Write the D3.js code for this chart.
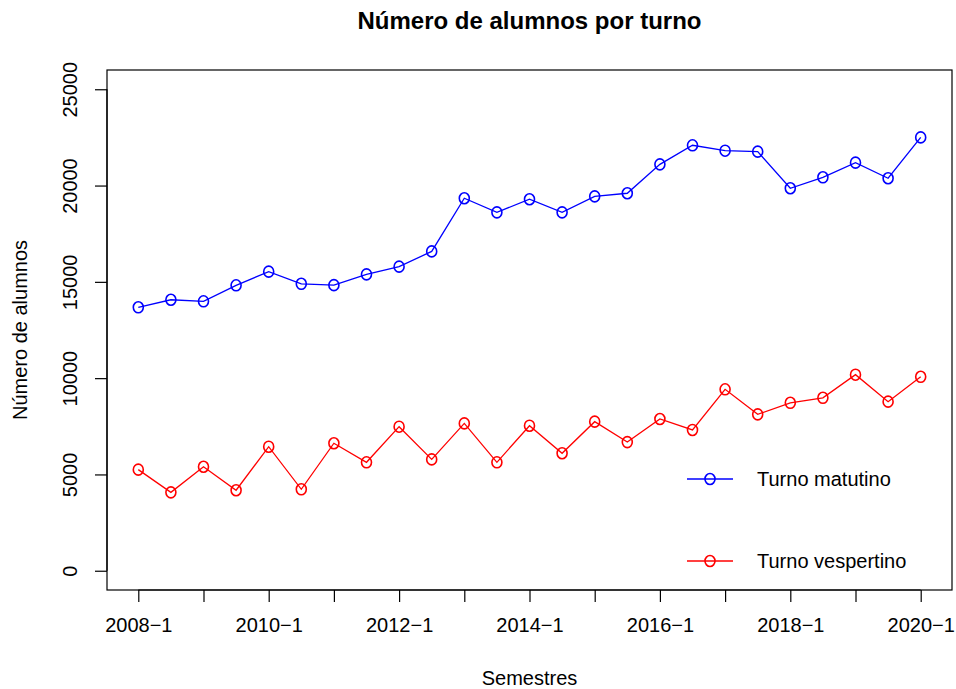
<!DOCTYPE html>
<html>
<head>
<meta charset="utf-8">
<script src="https://cdn.jsdelivr.net/npm/d3@7"></script>
<style>
  body { margin: 0; background: #fff; }
  svg { font-family: "Liberation Sans", Arial, sans-serif; }
</style>
</head>
<body>
<div id="chart"></div>
<script>
var semestres = [];
for (var yr = 2008; yr <= 2020; yr++) {
    semestres.push(yr + '\u22121');
    if (yr < 2020) semestres.push(yr + '\u22122');
}

var matutino = [13680, 14070, 13990, 14820, 15530, 14900, 14830, 15390, 15790, 16580,
    19340, 18610, 19290, 18610, 19440, 19600, 21100, 22090, 21810, 21760,
    19860, 20430, 21190, 20380, 22500];
var vespertino = [5250, 4070, 5400, 4180, 6440, 4230, 6620, 5630, 7480, 5780,
    7650, 5630, 7530, 6100, 7740, 6680, 7880, 7310, 9420, 8120,
    8720, 8980, 10180, 8780, 10070];

var yTicks = [0, 5000, 10000, 15000, 20000, 25000];
var series = [
    { name: 'Turno matutino', values: matutino, color: '#0000ff' },
    { name: 'Turno vespertino', values: vespertino, color: '#ff0000' }
];

var width = 956, height = 689;
var box = { left: 107, right: 952, top: 70, bottom: 590 };

var svg = d3.select('#chart').append('svg')
    .attr('width', width)
    .attr('height', height);

// R style: 4% padding around the data range
var n = semestres.length;
var xPad = (n - 1) * 0.04;
var x = d3.scaleLinear()
    .domain([1 - xPad, n + xPad])
    .range([box.left, box.right]);
var y = d3.scaleLinear()
    .domain([0 - 25000 * 0.04, 25000 * 1.04])
    .range([box.bottom, box.top]);

// box
svg.append('rect')
    .attr('x', box.left).attr('y', box.top)
    .attr('width', box.right - box.left)
    .attr('height', box.bottom - box.top)
    .style('fill', 'none').style('stroke', '#000').style('stroke-width', 1.2);

// x axis: tick every year, label every other year
var xTickIdx = d3.range(1, n + 1, 2);
var xAxis = svg.append('g')
    .attr('transform', 'translate(0,' + box.bottom + ')')
    .call(d3.axisBottom(x)
        .tickValues(xTickIdx)
        .tickSize(12)
        .tickPadding(16)
        .tickFormat(function(d, i) { return i % 2 === 0 ? semestres[d - 1] : ''; }));
xAxis.select('.domain')
    .attr('d', 'M' + x(1) + ',0H' + x(n));
xAxis.selectAll('line, .domain').style('stroke', '#000').style('stroke-width', 1.2);
xAxis.selectAll('text')
    .style('font-size', '20px').style('fill', '#000')
    .style('font-family', '"Liberation Sans", Arial, sans-serif');

// y axis
var yAxis = svg.append('g')
    .attr('transform', 'translate(' + box.left + ',0)')
    .call(d3.axisLeft(y).tickValues(yTicks).tickSize(12).tickFormat(d3.format('d')));
yAxis.select('.domain')
    .attr('d', 'M0,' + y(0) + 'V' + y(25000));
yAxis.selectAll('line, .domain').style('stroke', '#000').style('stroke-width', 1.2);
yAxis.selectAll('text')
    .attr('x', 0).attr('y', 0).attr('dy', 0)
    .attr('transform', 'translate(-37,0) rotate(-90)')
    .style('text-anchor', 'middle')
    .style('dominant-baseline', 'central')
    .style('font-size', '20px').style('fill', '#000')
    .style('font-family', '"Liberation Sans", Arial, sans-serif');

// lines and points
var line = d3.line()
    .x(function(d, i) { return x(i + 1); })
    .y(function(d) { return y(d); });

series.forEach(function(s) {
    svg.append('path')
        .datum(s.values)
        .attr('d', line)
        .style('fill', 'none')
        .style('stroke', s.color)
        .style('stroke-width', 1.3);
    svg.selectAll(null)
        .data(s.values)
        .enter()
        .append('ellipse')
        .attr('cx', function(d, i) { return x(i + 1); })
        .attr('cy', function(d) { return y(d); })
        .attr('rx', 5).attr('ry', 5.5)
        .style('fill', 'none')
        .style('stroke', s.color)
        .style('stroke-width', 1.6);
});

// legend (bottom right, no box)
var legend = svg.append('g');
series.forEach(function(s, i) {
    var ly = 479 + i * 82;
    legend.append('line')
        .attr('x1', 687).attr('x2', 733)
        .attr('y1', ly).attr('y2', ly)
        .style('stroke', s.color).style('stroke-width', 1.3);
    legend.append('ellipse')
        .attr('cx', 710).attr('cy', ly)
        .attr('rx', 5).attr('ry', 5.5)
        .style('fill', 'none').style('stroke', s.color).style('stroke-width', 1.6);
    legend.append('text')
        .attr('x', 757).attr('y', ly + 7)
        .style('font-size', '20px')
        .text(s.name);
});

// titles
svg.append('text')
    .attr('x', (box.left + box.right) / 2).attr('y', 29)
    .style('text-anchor', 'middle')
    .style('font-size', '24px').style('font-weight', 'bold')
    .text('Número de alumnos por turno');

svg.append('text')
    .attr('x', (box.left + box.right) / 2).attr('y', 685)
    .style('text-anchor', 'middle')
    .style('font-size', '20px')
    .text('Semestres');

svg.append('text')
    .attr('transform', 'translate(27,' + ((box.top + box.bottom) / 2) + ') rotate(-90)')
    .style('text-anchor', 'middle')
    .style('font-size', '20px')
    .text('Número de alumnos');
</script>
</body>
</html>
